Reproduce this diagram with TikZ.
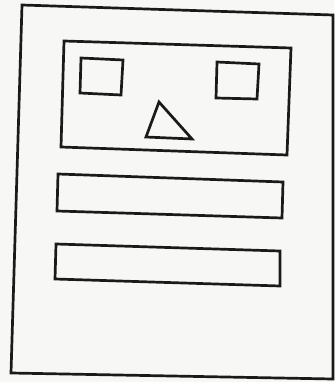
\documentclass[tikz,border=0pt]{standalone}
\usepackage{tikz}
\usepackage{xcolor}
\definecolor{inkblack}{HTML}{1A1A1A}
\definecolor{paper}{HTML}{F7F7F6}

\begin{document}
\begin{tikzpicture}[x=1pt, y=-1pt,
  frameline/.style={draw=inkblack, line width=2.7pt, line join=miter}]

% page area
\fill[paper] (0,0) rectangle (334,382);
\useasboundingbox (0,0) rectangle (334,382);

% outer sheet
\draw[frameline] (22,5) -- (333,15) -- (333,379) -- (11,373) -- cycle;

% picture box with two squares and a triangle
\draw[frameline] (64,41) -- (291,48) -- (287,155) -- (61,147) -- cycle;
\draw[frameline] (81,58) -- (123,60) -- (121,95) -- (80,93) -- cycle;
\draw[frameline] (217,62) -- (259,64) -- (257,99) -- (216,98) -- cycle;
\draw[frameline] (159,102) -- (192,139) -- (146,137) -- cycle;

% text bars
\draw[frameline] (58,174) -- (283,182) -- (282,218) -- (57,211) -- cycle;
\draw[frameline] (56,244) -- (280,251) -- (280,286) -- (55,279) -- cycle;
\end{tikzpicture}
\end{document}
